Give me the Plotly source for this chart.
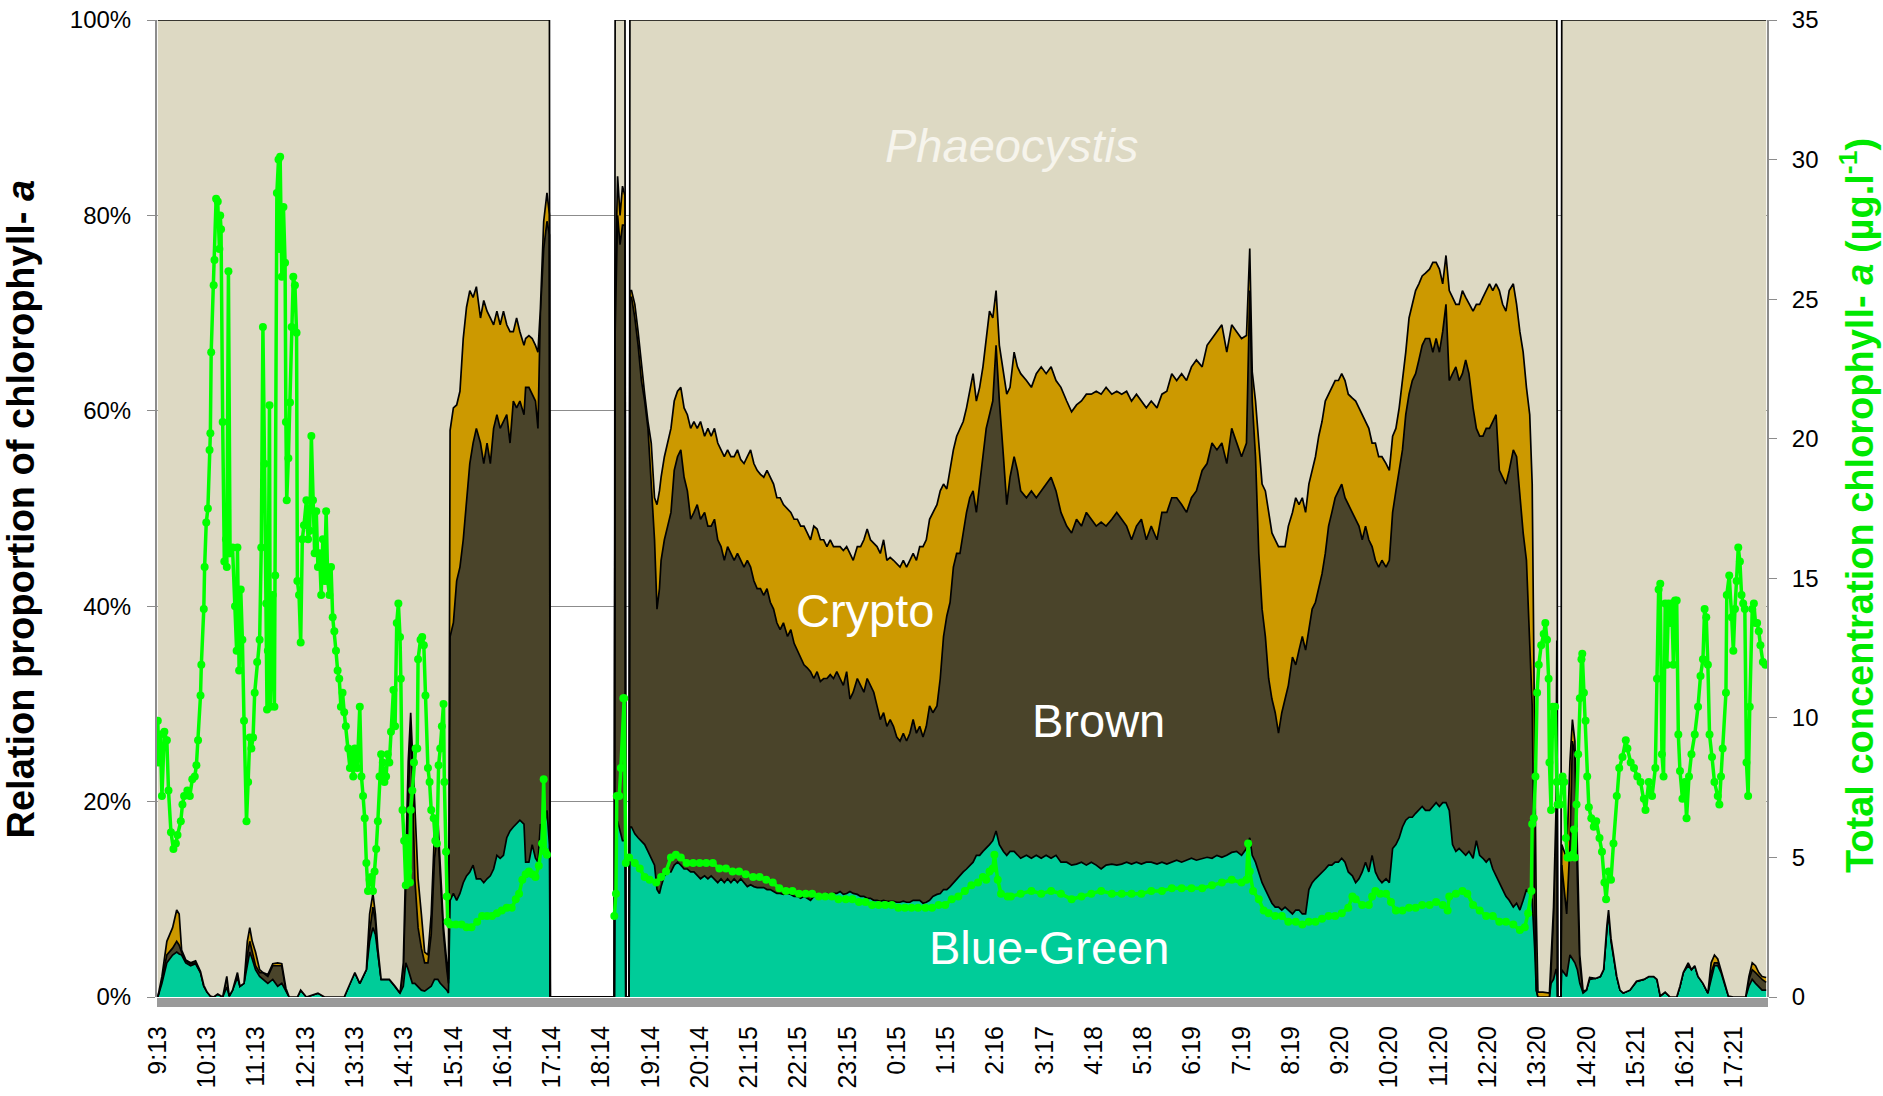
import numpy as np
import plotly.graph_objects as go

# ---------------- data ----------------
# x axis: sample (category) index, one sample per ~minute; a label every 60 samples
tick_labels = ["9:13", "10:13", "11:13", "12:13", "13:13", "14:13", "15:14", "16:14", "17:14",
               "18:14", "19:14", "20:14", "21:15", "22:15", "23:15", "0:15", "1:15", "2:16",
               "3:17", "4:18", "5:18", "6:19", "7:19", "8:19", "9:20", "10:20", "11:20",
               "12:20", "13:20", "14:20", "15:21", "16:21", "17:21"]
samples_per_label = 60

# sample spans where pigment proportions were measured (outside them: no data)
measured_spans = [(0, 477), (557, 569), (575, 1704), (1710, 1959)]

# sample index of each reading of the stacked proportions
area_idx = [
    0, 5, 11, 18, 23, 26, 29, 34, 40, 46, 52, 56, 60, 64, 68, 73, 79, 84, 87, 91, 97, 100, 105,
    109, 112, 115, 119, 124, 128, 134, 140, 146, 151, 156, 160, 170, 174, 181, 195, 203, 227,
    236, 240, 246, 250, 254, 258, 262, 265, 268, 272, 282, 289, 295, 299, 302, 305, 308, 310,
    313, 317, 321, 325, 329, 333, 337, 341, 344, 348, 352, 354, 356, 360, 364, 368, 372, 376,
    380, 384, 388, 393, 397, 401, 405, 409, 413, 417, 421, 425, 429, 433, 437, 441, 446, 448,
    452, 456, 460, 463, 466, 470, 474, 477, 478,
    556, 557, 560, 563, 566, 569, 570,
    574, 575, 577, 581, 585, 589, 593, 597, 601, 605, 608, 611, 613, 617, 621, 625, 629, 633,
    637, 641, 645, 649, 653, 657, 661, 666, 670, 674, 678, 682, 686, 690, 694, 698, 702, 706,
    710, 714, 718, 722, 726, 730, 734, 738, 742, 746, 750, 754, 758, 762, 767, 771, 775, 779,
    783, 787, 791, 795, 799, 803, 807, 811, 815, 819, 823, 827, 831, 835, 839, 843, 847, 852,
    856, 860, 864, 868, 872, 876, 880, 884, 888, 892, 896, 900, 904, 908, 912, 916, 920, 924,
    928, 932, 936, 940, 944, 949, 953, 957, 961, 965, 969, 973, 977, 981, 985, 989, 993, 997,
    1001, 1005, 1009, 1013, 1017, 1021, 1025, 1030, 1034, 1038, 1043, 1047, 1051, 1058, 1064,
    1070, 1076, 1082, 1088, 1094, 1100, 1107, 1113, 1119, 1125, 1131, 1137, 1143, 1149, 1155,
    1162, 1168, 1174, 1180, 1186, 1192, 1198, 1204, 1210, 1217, 1223, 1229, 1235, 1241, 1247,
    1253, 1259, 1265, 1272, 1278, 1284, 1290, 1296, 1302, 1308, 1314, 1320, 1326, 1330, 1333,
    1337, 1341, 1345, 1349, 1353, 1357, 1361, 1365, 1369, 1373, 1377, 1382, 1386, 1390, 1394,
    1398, 1402, 1406, 1410, 1414, 1418, 1422, 1426, 1430, 1434, 1438, 1442, 1446, 1450, 1455,
    1459, 1463, 1467, 1471, 1475, 1479, 1483, 1487, 1491, 1496, 1500, 1504, 1508, 1512, 1516,
    1520, 1524, 1528, 1532, 1536, 1540, 1544, 1549, 1553, 1557, 1561, 1565, 1569, 1573, 1577,
    1581, 1585, 1589, 1593, 1597, 1602, 1606, 1610, 1614, 1618, 1622, 1626, 1630, 1634, 1638,
    1642, 1646, 1651, 1655, 1659, 1663, 1667, 1671, 1674, 1677, 1679, 1681, 1687, 1695, 1697,
    1700, 1703, 1704, 1705,
    1709, 1710, 1716, 1720, 1723, 1726, 1729, 1732, 1736, 1740, 1744, 1751, 1757, 1761, 1765,
    1767, 1770, 1773, 1777, 1781, 1785, 1793, 1801, 1810, 1816, 1822, 1826, 1830, 1836, 1842,
    1850, 1854, 1858, 1864, 1868, 1872, 1876, 1882, 1888, 1892, 1896, 1900, 1904, 1908, 1913,
    1919, 1934, 1938, 1942, 1946, 1950, 1954, 1959]

# upper edge (cumulative %) of the Blue-Green layer
bluegreen_top = [
    0, 1.4, 3.5, 4.3, 4.6, 4.4, 4.3, 3.5, 3.2, 3.4, 2.5, 1.1, 0.5, 0.1, 0, 0.3, 0, 1.0, 0.1, 0.7, 2.0, 1.1, 1.4,
    3.5, 4.6, 3.9, 2.8, 2.1, 1.8, 1.4, 1.8, 1.1, 1.4, 0.6, 0, 0, 0.7, 0, 0.4, 0, 0,
    1.8, 2.5, 1.4, 2.1, 2.8, 5.7, 7.1, 6.4, 4.3, 1.8, 1.8, 1.1, 0.4, 1.1, 3.5, 2.8, 1.8, 1.4,
    1.4, 1.1, 0.7, 0.6, 0.9, 1.1, 1.8, 1.8, 1.4, 1.1, 0.7, 0.4, 9.9, 10.6, 9.9, 10.6, 11.7, 12.4,
    12.8, 13.5, 12.1, 12.1, 11.7, 12.1, 12.4, 13.1, 14.5, 14.2, 14.5, 16.3, 17.0, 17.4, 17.7, 18.1, 17.7, 13.8,
    13.8, 15.6, 14.2, 13.8, 17.7, 17.0, 19.1, 15.6, 0,
    0, 15, 18, 17, 16, 16, 0,
    0, 17.4, 17.4, 16.7, 16.3, 16.0, 15.6, 14.9, 14.2, 13.5, 11.0, 10.6, 11.3, 12.4, 12.8, 12.8, 13.5, 13.8,
    13.5, 13.1, 13.1, 12.8, 12.8, 12.4, 12.1, 12.4, 12.1, 12.4, 12.1, 11.7, 12.1, 11.7, 12.1, 11.7, 12.1, 11.7,
    12.1, 11.7, 11.3, 11.5, 11.3, 11.2, 11.2, 11.2, 11.0, 11.0, 10.8, 10.6, 10.6, 10.5, 10.6, 10.5, 10.3, 10.3,
    10.1, 10.3, 10.1, 9.9, 10.3, 10.3, 10.3, 10.3, 10.6, 10.3, 10.6, 10.6, 10.8, 10.5, 10.6, 10.8, 10.6, 10.5,
    10.3, 10.3, 10.1, 10.1, 9.9, 9.9, 9.8, 9.9, 9.8, 9.8, 9.8, 9.7, 9.7, 9.8, 9.7, 9.7, 9.9, 9.9,
    9.9, 9.6, 9.7, 9.9, 10.3, 10.5, 10.6, 11.0, 11.0, 11.3, 11.7, 12.1, 12.4, 12.8, 13.1, 13.5, 13.8, 14.5,
    14.5, 14.9, 15.2, 15.6, 16.0, 17.0, 15.6, 14.9, 14.5, 14.9, 14.9, 14.5, 14.2, 14.5, 14.2,
    14.5, 14.2, 14.5, 14.2, 14.5, 13.8, 13.8, 13.5, 13.6, 13.8, 13.5, 13.8, 13.5, 13.1, 13.5,
    13.6, 13.5, 13.6, 13.8, 13.6, 13.8, 13.6, 13.8, 13.8, 13.6, 13.8, 13.6, 13.8, 14.0, 13.8,
    14.0, 14.2, 14.0, 14.2, 14.3, 14.2, 14.5, 14.3, 14.5, 14.8, 14.9, 14.5, 15.2, 16.3, 14.5,
    13.8, 12.8, 11.7, 11.0, 10.3, 9.6, 9.2, 9.2, 8.9, 9.2, 8.9, 8.5, 8.9, 8.9, 8.5,
    8.5, 11.0, 11.7, 12.1, 12.4, 12.8, 13.1, 13.5, 13.5, 13.8, 13.8, 14.2, 13.8, 12.8, 12.4,
    11.7, 12.1, 12.8, 13.8, 12.8, 14.5, 12.8, 12.1, 11.7, 12.1, 11.7, 15.2, 15.6, 16.3, 17.4,
    18.1, 18.4, 18.4, 18.8, 19.1, 19.5, 19.1, 19.1, 19.5, 19.9, 19.5, 19.9, 19.9, 19.1, 15.6,
    14.9, 15.2, 14.9, 14.5, 14.9, 14.2, 16.0, 14.5, 14.2, 13.8, 14.2, 13.1, 12.4, 11.7, 11.0,
    10.3, 9.9, 9.2, 9.6, 8.9, 9.9, 11.0, 10.6, 9.9, 5.0, 0.7, 0, 0, 0, 1.4,
    1.8, 2.8, 2.8, 0,
    0, 2.8, 2.1, 4.3, 3.9, 3.5, 2.8, 1.4, 0.4, 0.7, 1.8, 1.9, 2.1, 2.8, 7.1,
    8.5, 5.7, 4.3, 2.1, 0.7, 0.4, 0.7, 1.6, 1.8, 2.1, 2.1, 1.8, 0.1, 0.5, 0,
    0, 1.1, 2.5, 3.2, 2.8, 3.2, 2.1, 1.4, 0.4, 1.8, 3.2, 3.2, 2.5, 1.4, 0.1,
    0, 0, 1.1, 1.8, 1.4, 1.1, 0.7, 0.7]

# upper edge (cumulative %) of the Brown layer
brown_top = [
    0, 1.8, 4.3, 5.0, 5.7, 5.3, 4.6, 3.7, 3.4, 3.5, 2.5, 1.1, 0.5, 0.1, 0, 0.3, 0, 2.1, 0.1, 0.7, 2.5, 1.1, 1.4,
    4.3, 5.7, 4.6, 3.2, 2.5, 2.5, 2.1, 3.2, 3.2, 3.2, 0.7, 0, 0, 0.7, 0, 0.4, 0, 0,
    1.8, 2.5, 1.4, 2.1, 2.8, 6.7, 9.2, 7.8, 4.6, 1.8, 1.8, 1.1, 0.4, 2.8, 12.1, 20.6, 28.4, 22.7,
    12.1, 7.1, 5.0, 3.5, 3.5, 6.4, 14.2, 17.0, 12.1, 6.4, 2.8, 1.4, 36.9, 38.3, 42.6, 44.0, 46.8, 50.4,
    54.6, 56.7, 58.2, 56.7, 54.6, 56.7, 54.6, 58.2, 59.6, 58.2, 58.9, 59.6, 56.7, 61.0, 60.3, 61.0, 59.6, 62.4,
    62.4, 61.7, 61.0, 58.2, 70.2, 76.6, 79.4, 78.0, 0,
    0, 68, 80, 77, 79, 79, 0,
    0, 71.6, 71.6, 69.5, 66.7, 63.1, 61.0, 58.2, 52.5, 46.8, 39.7, 41.8, 44.7, 46.8, 48.2, 49.6, 53.9, 55.3,
    56.0, 53.2, 51.8, 48.9, 49.6, 50.4, 48.9, 49.6, 48.2, 48.2, 48.9, 46.8, 46.1, 44.7, 46.1, 45.4, 44.7, 45.4,
    44.7, 44.0, 44.7, 44.0, 42.6, 41.8, 41.8, 41.1, 41.8, 40.4, 39.7, 38.3, 37.6, 38.3, 36.9, 37.6, 36.2, 35.5,
    34.8, 34.0, 33.7, 33.3, 32.6, 33.3, 32.3, 32.6, 32.6, 33.0, 32.6, 33.3, 32.6, 31.9, 33.3, 30.5, 31.2, 32.6,
    31.9, 31.2, 32.6, 31.9, 31.2, 29.8, 28.4, 29.1, 27.7, 28.4, 27.7, 26.6, 26.2, 27.0, 26.2, 27.0, 28.4, 27.0,
    27.7, 26.6, 27.7, 29.8, 29.1, 29.8, 32.6, 36.9, 39.0, 40.4, 44.0, 45.4, 45.4, 47.5, 49.6, 51.1, 51.8, 49.6,
    52.5, 55.3, 58.2, 59.6, 61.0, 66.7, 61.0, 55.3, 50.4, 53.2, 55.3, 53.9, 51.8, 51.1, 51.8,
    51.1, 51.8, 52.5, 53.2, 51.8, 49.6, 48.2, 47.5, 48.9, 48.2, 49.6, 48.9, 48.2, 48.6, 48.2,
    48.9, 49.6, 48.9, 48.2, 46.8, 48.2, 48.9, 46.8, 48.2, 46.8, 49.6, 49.6, 51.1, 51.1, 50.4,
    49.6, 51.1, 51.8, 53.9, 54.6, 56.7, 56.0, 56.7, 54.6, 58.2, 56.7, 55.3, 56.7, 72.3, 61.0,
    55.3, 45.4, 39.7, 36.9, 32.6, 30.5, 29.1, 27.0, 29.1, 30.5, 31.9, 34.8, 34.0, 35.5, 36.9,
    35.5, 37.6, 39.7, 40.4, 41.8, 43.3, 45.4, 48.2, 49.6, 51.1, 51.8, 52.5, 51.1, 50.4, 49.6,
    48.9, 48.2, 46.8, 48.2, 46.8, 46.1, 44.7, 44.0, 44.7, 44.0, 44.7, 49.6, 51.8, 53.9, 56.0,
    59.6, 61.7, 63.1, 63.8, 65.2, 66.7, 67.4, 67.4, 66.0, 67.4, 66.0, 68.1, 70.9, 63.1, 63.8,
    64.5, 63.1, 63.8, 65.2, 63.8, 60.3, 58.2, 57.4, 57.4, 58.2, 58.2, 58.9, 59.6, 53.9, 53.2,
    52.5, 53.9, 56.0, 55.3, 51.1, 47.5, 44.7, 36.9, 29.8, 10.6, 0.7, 0, 0, 0, 2.8,
    8.5, 19.1, 36.0, 0,
    0, 13.5, 8.5, 15.6, 26.2, 24.8, 12.1, 3.5, 0.5, 0.7, 2.0, 1.9, 2.1, 2.8, 7.3,
    8.9, 6.0, 4.4, 2.1, 0.7, 0.4, 0.7, 1.6, 1.8, 2.1, 2.1, 1.8, 0.1, 0.5, 0,
    0, 1.1, 2.5, 3.5, 2.8, 3.2, 2.1, 1.4, 0.4, 2.5, 3.5, 3.5, 2.8, 1.6, 0.1,
    0, 0, 1.8, 2.8, 2.5, 2.1, 1.8, 1.5]

# upper edge (cumulative %) of the Crypto layer (above it: Phaeocystis up to 100 %)
crypto_top = [
    0, 2.1, 5.7, 7.1, 8.9, 8.5, 4.8, 3.8, 3.5, 3.7, 2.6, 1.2, 0.5, 0.1, 0, 0.3, 0, 2.1, 0.1, 0.7, 2.5, 1.1, 1.4,
    5.7, 7.1, 5.7, 4.6, 2.8, 2.5, 2.3, 3.4, 3.5, 3.4, 0.9, 0, 0, 0.7, 0, 0.4, 0, 0,
    1.8, 2.5, 1.4, 2.1, 2.8, 8.5, 10.6, 8.5, 5.0, 1.8, 1.8, 1.1, 0.4, 3.5, 15.6, 24.1, 29.1, 25.5,
    19.1, 12.1, 8.5, 4.6, 4.3, 8.5, 17.0, 18.4, 13.5, 7.1, 3.5, 1.8, 58.0, 60.3, 60.6, 62.0, 67.4, 70.6,
    72.3, 71.6, 72.7, 69.5, 71.3, 70.2, 69.5, 68.8, 70.2, 68.8, 70.2, 68.8, 68.1, 68.1, 69.5, 68.1, 66.7, 67.4,
    67.7, 67.4, 66.7, 66.0, 70.5, 79.4, 82.3, 80.1, 0,
    0, 72, 84, 80, 83, 82, 0,
    0, 72.3, 72.3, 70.9, 68.1, 64.5, 61.7, 58.9, 56.7, 51.1, 50.4, 51.8, 53.2, 55.3, 56.7, 58.2, 61.0, 62.0,
    62.4, 60.3, 59.6, 58.2, 58.9, 58.2, 58.9, 57.4, 58.2, 57.4, 58.2, 56.7, 56.0, 55.3, 56.0, 55.3, 55.3, 56.0,
    55.0, 54.6, 55.3, 56.0, 54.6, 53.9, 53.5, 53.2, 53.9, 53.2, 52.5, 51.1, 51.1, 50.4, 50.0, 49.6, 48.9, 48.9,
    48.2, 48.2, 47.5, 46.8, 48.2, 47.9, 46.8, 46.8, 46.1, 46.8, 46.1, 46.1, 46.1, 45.7, 46.1, 45.4, 44.7, 46.1,
    46.1, 46.8, 47.9, 46.8, 46.5, 46.1, 45.4, 46.8, 44.7, 45.0, 44.7, 44.3, 44.0, 44.7, 44.0, 44.7, 45.4, 44.7,
    46.1, 46.1, 46.8, 48.9, 49.6, 50.4, 51.8, 52.5, 52.0, 53.9, 56.0, 57.4, 58.2, 58.9, 60.3, 62.0, 63.8, 61.0,
    62.4, 64.5, 67.4, 70.2, 69.5, 72.3, 66.7, 63.8, 61.7, 62.4, 66.0, 64.5, 63.8, 63.1, 62.4,
    63.8, 64.5, 63.8, 64.5, 63.1, 62.4, 61.0, 59.9, 60.6, 61.0, 61.7, 61.7, 62.0, 61.7, 62.4,
    61.7, 62.0, 61.7, 62.0, 61.0, 61.7, 61.0, 60.3, 61.0, 60.3, 61.7, 62.0, 63.8, 63.1, 63.8,
    63.1, 64.5, 65.2, 64.5, 66.7, 67.4, 68.1, 68.8, 66.0, 68.8, 68.1, 67.4, 67.7, 76.6, 64.0,
    61.0, 56.7, 52.5, 51.8, 49.6, 47.5, 46.8, 46.1, 46.1, 46.1, 48.2, 49.6, 51.1, 50.4, 51.1,
    49.6, 52.5, 53.9, 55.3, 57.4, 58.9, 61.0, 61.7, 62.4, 63.1, 63.1, 63.8, 63.1, 61.7, 61.3,
    61.0, 60.3, 59.6, 58.9, 58.2, 56.7, 56.7, 55.3, 55.3, 54.6, 53.9, 57.4, 58.2, 60.3, 63.1,
    66.0, 69.5, 70.9, 72.3, 73.0, 73.8, 74.1, 74.5, 75.2, 75.2, 74.5, 73.0, 75.9, 72.3, 71.6,
    70.9, 70.9, 72.3, 71.6, 70.9, 70.2, 70.9, 70.9, 71.6, 72.3, 73.0, 72.3, 73.0, 72.3, 70.9,
    70.2, 72.3, 73.0, 70.9, 68.1, 66.0, 62.4, 59.6, 52.5, 29.8, 8.5, 0.5, 0.5, 0.4, 3.5,
    9.2, 19.1, 36.5, 0,
    0, 15.6, 14.2, 24.1, 28.4, 26.2, 15.6, 4.3, 0.6, 0.7, 2.0, 1.9, 2.1, 2.8, 7.3,
    8.9, 6.0, 4.4, 2.1, 0.7, 0.4, 0.7, 1.6, 1.8, 2.1, 2.1, 1.8, 0.1, 0.5, 0,
    0, 1.1, 2.5, 3.5, 2.8, 3.2, 2.1, 1.4, 0.4, 3.5, 4.3, 3.9, 2.8, 1.6, 0.1,
    0, 0, 2.1, 3.5, 3.2, 2.5, 2.1, 2.0]

# total chlorophyll-a (ug/l, right axis): sample index and value (None = no measurement)
chl_idx = [
    0, 1, 3, 5, 8, 11, 13, 16, 19, 22, 24, 28, 30, 32, 36, 39, 42, 45, 47, 49, 52, 53, 56, 57, 59,
    61, 63, 64, 65, 68, 69, 71, 73, 75, 76, 77, 79, 81, 83, 84, 86, 87, 88, 91, 94, 96, 97, 99,
    101, 103, 105, 108, 110, 112, 114, 116, 118, 121, 124, 126, 128, 130, 132, 133, 134, 136,
    137, 140, 142, 143, 145, 147, 148, 149, 151, 153, 155, 156, 157, 159, 161, 163, 165, 167,
    169, 170, 172, 174, 176, 178, 181, 183, 185, 187, 189, 191, 193, 195, 197, 199, 201, 203,
    205, 207, 209, 211, 213, 215, 217, 219, 221, 223, 225, 227, 229, 232, 234, 236, 238, 240,
    243, 246, 248, 250, 252, 254, 256, 258, 260, 262, 264, 266, 268, 270, 272, 274, 276, 278,
    280, 282, 284, 287, 289, 291, 293, 295, 296, 298, 300, 302, 303, 305, 307, 308, 310, 312,
    314, 316, 317, 320, 322, 324, 326, 329, 331, 333, 336, 338, 340, 342, 344, 346, 348, 349,
    351, 352, 353, 356, 363, 370, 376, 382, 389, 395, 401, 407, 413, 419, 425, 431, 436, 440,
    444, 448, 452, 456, 460, 464, 468, 470, 472, 474,
    515,
    556, 558, 559, 562, 564, 567, 568, 570, 574, 581, 587, 593, 599, 607, 613, 619, 625, 631,
    637, 644, 652, 660, 668, 676, 684, 692, 700, 708, 716, 725, 733, 741, 749, 757, 765, 773,
    781, 789, 797, 805, 813, 821, 829, 838, 846, 854, 862, 870, 878, 886, 894, 902, 910, 918,
    926, 935, 943, 951, 959, 967, 975, 983, 991, 999, 1005, 1009, 1013, 1017, 1019, 1023, 1027,
    1035, 1039, 1051, 1064, 1076, 1088, 1100, 1113, 1125, 1137, 1149, 1162, 1174, 1186, 1198,
    1210, 1223, 1235, 1247, 1259, 1272, 1284, 1296, 1308, 1320, 1326, 1328, 1330, 1334, 1341,
    1347, 1353, 1361, 1369, 1377, 1386, 1394, 1402, 1410, 1418, 1426, 1434, 1442, 1450, 1455,
    1459, 1467, 1475, 1479, 1483, 1489, 1496, 1502, 1508, 1516, 1524, 1532, 1540, 1549, 1557,
    1565, 1571, 1573, 1581, 1589, 1595, 1602, 1610, 1618, 1626, 1634, 1642, 1651, 1659, 1665,
    1669, 1673, 1674, 1676, 1678, 1680, 1682, 1685, 1688, 1690, 1692, 1694, 1695, 1697, 1699,
    1702, 1704, 1705, 1708, 1711, 1713, 1715, 1717, 1720, 1723, 1725, 1726, 1728, 1730, 1732,
    1734, 1735, 1737, 1739, 1741, 1743, 1746, 1749, 1752, 1756, 1759, 1762, 1764, 1767, 1770,
    1773, 1777, 1780, 1784, 1788, 1790, 1794, 1798, 1802, 1806, 1810, 1812, 1816, 1820, 1824,
    1826, 1828, 1830, 1832, 1834, 1836, 1838, 1840, 1842, 1844, 1846, 1848, 1850, 1852, 1854,
    1857, 1860, 1862, 1865, 1868, 1872, 1876, 1879, 1882, 1884, 1886, 1888, 1890, 1893, 1896,
    1900, 1902, 1904, 1906, 1910, 1911, 1914, 1917, 1919, 1921, 1923, 1925, 1927, 1929, 1931,
    1933, 1935, 1937, 1939, 1942, 1944, 1946, 1948, 1950, 1952, 1955, 1958]

chl_total = [
    9.9, 8.4, 9.4, 7.2, 9.5, 9.2, 7.4, 5.9, 5.3, 5.5, 5.8, 6.3, 6.9, 7.2, 7.4, 7.2, 7.8, 7.9, 8.3, 9.2, 10.8, 11.9, 13.9, 15.4, 17.0,
    17.5, 19.6, 20.2, 23.1, 25.5, 26.4, 28.6, 28.5, 26.8, 28.0, 27.5, 20.6, 15.6, 16.4, 15.4, 26.0, 15.9, 15.9, 16.1, 14.0, 12.4, 16.1, 11.7,
    14.6, 12.8, 9.9, 6.3, 7.7, 9.3, 8.9, 9.3, 10.9, 12.0, 12.8, 16.1, 24.0, 19.1, 14.1, 10.3, 12.4, 21.2,
    10.4, 14.4, 10.4, 15.1, 28.8, 30.0, 26.8, 30.1, 25.8, 28.3, 26.3, 20.6, 17.8, 19.3, 21.3, 24.0, 25.8, 25.5,
    23.8, 14.9, 14.4, 12.7, 16.4, 16.9, 17.8, 16.4, 16.7, 20.1, 17.8, 15.9, 17.4, 15.4, 15.9, 14.4, 16.4, 14.9,
    17.4, 14.9, 14.4, 15.4, 13.6, 13.1, 12.4, 11.7, 11.4, 10.4, 10.9, 10.2, 9.7, 8.9, 8.2, 8.7, 7.9, 8.9,
    8.2, 10.4, 7.9, 7.2, 6.4, 4.8, 3.8, 4.2, 4.3, 3.8, 4.5, 5.3, 6.3, 7.9, 8.7, 8.4, 7.7, 7.9,
    8.7, 8.4, 9.5, 11.0, 9.7, 13.4, 14.1, 12.9, 11.4, 6.7, 5.6, 4.0, 5.7, 4.5, 4.1, 6.7, 7.4, 8.4,
    8.9, 8.9, 12.1, 12.8, 12.9, 12.6, 10.8, 8.2, 7.7, 6.7, 6.4, 5.6, 5.5, 8.3, 8.9, 9.7, 10.5, 7.7,
    5.2, 3.6, 2.7, 2.6, 2.6, 2.6, 2.5, 2.5, 2.7, 2.9, 2.9, 2.9, 3.0, 3.1, 3.2, 3.2, 3.5, 3.7,
    4.2, 4.4, 4.5, 4.4, 4.3, 4.7, 5.5, 7.8, 5.2, 5.1,
    None,
    2.9, 3.7, 7.2, 7.2, 8.2, 10.7, 10.7, 4.8, 5.0, 4.8, 4.6, 4.3, 4.2, 4.1, 4.3, 4.5, 5.0, 5.1,
    5.0, 4.8, 4.8, 4.8, 4.8, 4.8, 4.6, 4.6, 4.5, 4.5, 4.4, 4.3, 4.3, 4.2, 4.1, 3.9, 3.8, 3.8,
    3.7, 3.7, 3.7, 3.6, 3.6, 3.6, 3.5, 3.5, 3.5, 3.4, 3.4, 3.3, 3.3, 3.3, 3.3, 3.2, 3.2, 3.2,
    3.2, 3.2, 3.2, 3.3, 3.3, 3.5, 3.6, 3.8, 4.0, 4.1, 4.3, 4.2, 4.5, 4.6, 5.1, 4.2, 3.7,
    3.6, 3.6, 3.7, 3.8, 3.7, 3.8, 3.7, 3.5, 3.6, 3.7, 3.8, 3.7, 3.7, 3.7, 3.7,
    3.8, 3.8, 3.9, 3.9, 3.9, 3.9, 4.0, 4.1, 4.2, 4.1, 4.2, 5.5, 4.5, 3.8, 3.5,
    3.1, 3.0, 2.9, 2.9, 2.7, 2.7, 2.6, 2.7, 2.7, 2.8, 2.9, 2.9, 3.0, 3.2, 3.6,
    3.5, 3.3, 3.3, 3.6, 3.8, 3.7, 3.7, 3.4, 3.1, 3.1, 3.2, 3.2, 3.3, 3.3, 3.4,
    3.3, 3.1, 3.6, 3.7, 3.8, 3.7, 3.3, 3.1, 2.9, 2.9, 2.7, 2.7, 2.6, 2.4, 2.5,
    3.0, 3.8, 6.2, 6.4, 7.9, 10.9, 11.9, 12.6, 13.0, 13.4, 12.8, 11.4, 8.4, 6.7, 10.4,
    10.4, 7.7, 6.9, 6.9, 7.9, 7.7, 5.7, 5.0, 5.0, 5.1, 6.0, 5.0, 6.9, 8.7, 10.7,
    12.1, 12.3, 10.9, 9.9, 7.9, 6.8, 6.4, 6.1, 6.3, 5.7, 5.2, 4.1, 3.5, 4.5, 4.2,
    5.5, 7.2, 8.2, 8.6, 9.2, 8.9, 8.4, 8.2, 7.9, 7.7, 7.1, 6.7, 7.7, 7.2, 8.2,
    11.4, 14.6, 14.8, 8.7, 7.9, 14.1, 11.9, 14.1, 13.4, 14.1, 11.9, 14.2, 14.2, 9.4, 8.1,
    7.1, 7.7, 6.4, 7.9, 8.7, 9.4, 10.4, 11.5, 12.1, 13.9, 13.6, 11.9, 9.4, 8.6, 7.7,
    7.2, 6.9, 7.9, 8.9, 10.9, 14.4, 15.1, 13.6, 12.4, 13.9, 14.9, 16.1, 15.6, 14.4, 14.1,
    13.9, 8.4, 7.2, 10.4, 13.9, 14.1, 13.4, 13.4, 13.1, 12.6, 12.0, 11.9]

# ---------------- derived layer shares ----------------
x_area = np.array(area_idx, dtype=float)
bg = np.array(bluegreen_top, dtype=float)
br = np.maximum(np.array(brown_top, dtype=float), bg)
cr = np.maximum(np.array(crypto_top, dtype=float), br)
measured = np.zeros(len(x_area), dtype=bool)
for a, b in measured_spans:
    measured |= (x_area >= a) & (x_area <= b)

share_bluegreen = bg
share_brown = br - bg
share_crypto = cr - br
share_phaeo = np.where(measured, 100.0 - cr, 0.0)

C_PHAEO = "#DDD9C3"
C_CRYPTO = "#CC9900"
C_BROWN = "#4A442A"
C_BLUEGREEN = "#00CC99"
C_CHL = "#00FF00"
GRAY = "#8C8C8C"
BASE_FONT = "Liberation Sans, Arial, sans-serif"
Y_TICK_FONT = dict(family=BASE_FONT, size=24, color="#000000")
X_TICK_FONT = dict(family=BASE_FONT, size=25, color="#000000")

fig = go.Figure()
for name, share, col in [("Blue-Green", share_bluegreen, C_BLUEGREEN),
                         ("Brown", share_brown, C_BROWN),
                         ("Crypto", share_crypto, C_CRYPTO),
                         ("Phaeocystis", share_phaeo, C_PHAEO)]:
    fig.add_trace(go.Scatter(
        x=x_area, y=share, name=name, mode="lines", stackgroup="pig",
        line=dict(color="#000000", width=1.7), fillcolor=col, showlegend=False,
        hoverinfo="skip"))

fig.add_trace(go.Scatter(
    x=chl_idx, y=chl_total, name="Total chlorophyll-a", mode="lines+markers",
    yaxis="y2", connectgaps=False, showlegend=False,
    line=dict(color=C_CHL, width=3.5), marker=dict(color=C_CHL, size=8)))

tickvals = [i * samples_per_label for i in range(len(tick_labels))]

fig.update_layout(
    width=1883, height=1096,
    margin=dict(l=157, r=116, t=20, b=99, autoexpand=False),
    paper_bgcolor="white", plot_bgcolor="white",
    showlegend=False,
    xaxis=dict(
        range=[-1, 1960], tickmode="array", tickvals=tickvals, ticktext=tick_labels,
        tickangle=-90, tickfont=X_TICK_FONT, ticks="outside", ticklen=9,
        tickcolor="#9A9A9A", tickwidth=1.5, showgrid=False, zeroline=False, showline=False,
        ticklabelstandoff=9, automargin=False,
        minor=dict(ticks="outside", ticklen=9, tickcolor="#9A9A9A", tickwidth=1.5,
                   tickmode="linear", tick0=0, dtick=2, showgrid=False)),
    yaxis=dict(
        range=[0, 100], tickmode="array", tickvals=[0, 20, 40, 60, 80, 100],
        ticktext=["0%", "20%", "40%", "60%", "80%", "100%"], tickfont=Y_TICK_FONT,
        showgrid=True, gridcolor=GRAY, gridwidth=1, zeroline=False, automargin=False,
        showline=True, linecolor=GRAY, linewidth=2, ticks="outside", ticklen=8,
        tickcolor=GRAY, ticklabelstandoff=11),
    yaxis2=dict(
        range=[0, 35], dtick=5, overlaying="y", side="right", tickfont=Y_TICK_FONT,
        showgrid=False, zeroline=False, showline=True, linecolor=GRAY, linewidth=2,
        automargin=False, ticks="outside", ticklen=8, tickcolor=GRAY, ticklabelstandoff=10),
)

annotations = [
    dict(text="<i>Phaeocystis</i>", x=1040, y=87.2, xref="x", yref="y", showarrow=False,
         font=dict(family=BASE_FONT, size=47, color="#F6F4EC")),
    dict(text="Crypto", x=861, y=39.6, xref="x", yref="y", showarrow=False,
         font=dict(family=BASE_FONT, size=47, color="white")),
    dict(text="Brown", x=1146, y=28.3, xref="x", yref="y", showarrow=False,
         font=dict(family=BASE_FONT, size=47, color="white")),
    dict(text="Blue-Green", x=1085, y=5.1, xref="x", yref="y", showarrow=False,
         font=dict(family=BASE_FONT, size=47, color="white")),
    dict(text="<b>Relation proportion of chlorophyll- <i>a</i></b>", x=-0.0845, y=0.5,
         xref="paper", yref="paper", textangle=-90, showarrow=False,
         xanchor="center", yanchor="middle",
         font=dict(family=BASE_FONT, size=38, color="#000000")),
    dict(text="<b>Total concentration chlorophyll- <i>a</i> (µg.l<sup>-1</sup>)</b>",
         x=1.056, y=0.5026, xref="paper", yref="paper", textangle=-90, showarrow=False,
         xanchor="center", yanchor="middle",
         font=dict(family=BASE_FONT, size=38, color="#00E800")),
]
fig.update_layout(annotations=annotations)

fig.write_html("out.html")
